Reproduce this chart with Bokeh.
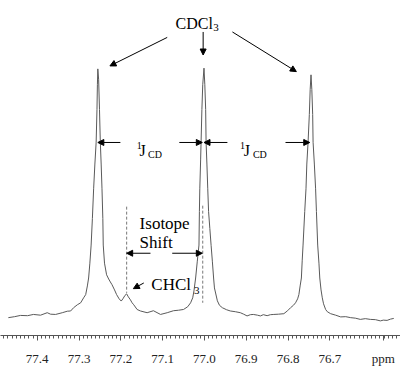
from bokeh.plotting import figure
from bokeh.models import (Range1d, FixedTicker, CustomJSTickFormatter, Label, Arrow,
                          NormalHead)
from bokeh.embed import file_html
from bokeh.resources import INLINE
import numpy as np

# ---- data (ppm, arbitrary intensity) ----
ppm = [77.469, 77.454, 77.440, 77.423, 77.409, 77.392, 77.376, 77.368, 77.356, 77.340,
       77.328, 77.320, 77.313, 77.304, 77.296, 77.289, 77.284, 77.280, 77.277, 77.274,
       77.271, 77.268, 77.265, 77.262, 77.259, 77.257, 77.256, 77.255, 77.253, 77.251,
       77.249, 77.247, 77.245, 77.243, 77.242, 77.239, 77.234, 77.229, 77.225, 77.221,
       77.215, 77.210, 77.204, 77.199, 77.195, 77.190, 77.186, 77.182, 77.177, 77.173,
       77.169, 77.161, 77.153, 77.137, 77.122, 77.105, 77.089, 77.074, 77.062, 77.050,
       77.040, 77.033, 77.028, 77.025, 77.021, 77.017, 77.013, 77.012, 77.011, 77.009,
       77.008, 77.006, 77.004, 77.001, 76.999, 76.997, 76.996, 76.994, 76.992, 76.990,
       76.987, 76.984, 76.981, 76.978, 76.976, 76.969, 76.964, 76.957, 76.947, 76.938,
       76.926, 76.914, 76.906, 76.898, 76.890, 76.883, 76.873, 76.866, 76.859, 76.850,
       76.842, 76.834, 76.823, 76.810, 76.801, 76.794, 76.787, 76.782, 76.777, 76.774,
       76.771, 76.768, 76.766, 76.764, 76.760, 76.757, 76.755, 76.752, 76.749, 76.747,
       76.745, 76.743, 76.741, 76.740, 76.737, 76.734, 76.732, 76.729, 76.726, 76.724,
       76.721, 76.718, 76.715, 76.710, 76.706, 76.698, 76.686, 76.674, 76.662, 76.650,
       76.639, 76.627, 76.615, 76.603, 76.591, 76.579, 76.572, 76.563, 76.555, 76.547]
intensity = [-0.8, -0.4, 0.1, 0.0, 0.5, 0.2, 1.2, 0.6, 0.5, 1.2,
             1.8, 1.9, 3.2, 4.4, 5.2, 7.2, 8.5, 12.0, 15.2, 21.2,
             28.5, 39.2, 51.2, 61.2, 70.0, 83.2, 93.2, 99.6, 95.2, 83.2,
             70.0, 61.2, 51.2, 39.2, 28.5, 21.2, 16.5, 14.8, 13.6, 12.5,
             10.4, 8.5, 6.8, 5.9, 6.8, 8.2, 8.8, 7.6, 6.4, 5.2,
             4.4, 2.5, 1.9, 1.2, 2.0, 0.5, 1.2, 2.0, 2.2, 2.5,
             3.6, 5.2, 7.2, 10.0, 15.2, 22.0, 28.5, 42.0, 51.2, 63.2,
             70.0, 83.2, 93.2, 99.9, 93.2, 83.2, 70.0, 61.2, 51.2, 42.0,
             35.2, 28.4, 22.0, 15.2, 11.2, 6.0, 4.2, 3.2, 2.4, 1.9,
             1.6, 1.2, 0.6, -0.1, 0.4, 0.5, 0.2, -0.1, 0.4, 0.0,
             0.4, 0.5, 0.6, 0.8, 2.0, 3.2, 4.2, 5.2, 6.8, 8.5,
             12.0, 15.2, 22.4, 28.5, 42.0, 51.2, 61.2, 70.0, 81.2, 91.2,
             97.2, 91.2, 81.2, 70.0, 61.2, 51.2, 42.0, 28.5, 21.2, 15.2,
             10.4, 7.2, 4.8, 2.5, 1.6, 0.8, 0.2, -0.5, -0.4, -0.8,
             -1.0, -1.5, -1.2, -1.5, -1.6, -2.1, -1.8, -1.9, -1.4, -1.1]

tick_values = [77.4, 77.3, 77.2, 77.1, 77.0, 76.9, 76.8, 76.7]
unit_position = 76.572                   # where the "ppm" unit label sits
axis_unit = "ppm"
peak_cdcl3 = [77.255, 77.001, 76.745]   # CDCl3 triplet lines
peak_chcl3 = 77.186                      # CHCl3 line

SERIF = "Liberation Serif"

p = figure(width=400, height=368, output_backend="svg", toolbar_location=None,
           x_range=Range1d(77.4878, 76.5309), y_range=Range1d(-8.0, 127.2),
           y_axis_type=None, min_border_left=0, min_border_right=0,
           min_border_top=0, min_border_bottom=30)
p.outline_line_color = None
p.grid.visible = False
p.background_fill_color = "white"
p.border_fill_color = "white"

p.line(ppm, intensity, line_color="#5a5a5a", line_width=1)

ax = p.xaxis[0]
ax.ticker = FixedTicker(ticks=tick_values + [unit_position],
                        minor_ticks=list(np.round(np.arange(77.48, 76.535, -0.01), 2)))
ax.formatter = CustomJSTickFormatter(
    args=dict(unit=axis_unit, upos=unit_position),
    code="return Math.abs(tick - upos) < 1e-6 ? unit : tick.toFixed(1);")
ax.major_tick_in = 0
ax.major_tick_out = 5
ax.minor_tick_in = 0
ax.minor_tick_out = 3
ax.axis_line_color = "#555555"
ax.major_tick_line_color = "#555555"
ax.minor_tick_line_color = "#555555"
ax.major_label_text_font = SERIF
ax.major_label_text_font_size = "13px"
ax.major_label_text_color = "#222222"
ax.major_label_standoff = 10


def arrow(x0, y0, x1, y1):
    p.add_layout(Arrow(x_start=x0, y_start=y0, x_end=x1, y_end=y1,
                       line_color="black", line_width=1,
                       end=NormalHead(size=6, fill_color="black", line_color="black")))


def label(x, y, t, size, align="left"):
    p.add_layout(Label(x=x, y=y, text=t, text_font=SERIF, text_font_size=size,
                       text_color="black", text_align=align,
                       text_baseline="alphabetic"))


# CDCl3 label with arrows to the three lines
label(77.069, 117.9, "CDCl", "16px")
label(76.979, 116.4, "3", "11px")
arrow(77.089, 112.3, 77.226, 100.8)
arrow(77.003, 114.5, 77.003, 105.2)
arrow(76.933, 114.5, 76.780, 98.5)

# 1J_CD coupling arrows
arrow(77.201, 69.9, peak_cdcl3[0], 69.9)
arrow(77.060, 69.9, 77.005, 69.9)
arrow(76.945, 69.9, peak_cdcl3[1], 69.9)
arrow(76.806, 69.9, 76.748, 69.9)
for x1, xj, xcd in [(77.162, 77.155, 77.135), (76.915, 76.906, 76.884)]:
    label(x1, 68.7, "1", "10px")
    label(xj, 66.6, "J", "16px")
    label(xcd, 65.1, "CD", "10px")

# isotope shift
p.segment(x0=[peak_chcl3, 77.004], y0=[44.0, 44.4], x1=[peak_chcl3, 77.004], y1=[9.2, 5.2],
          line_color="#777777", line_width=1, line_dash="3 2")
label(77.155, 37.2, "Isotope", "17px")
label(77.155, 29.6, "Shift", "17px")
arrow(77.129, 25.2, peak_chcl3, 25.2)
arrow(77.077, 25.2, 77.005, 25.2)

# CHCl3
label(77.127, 12.4, "CHCl", "17px")
label(77.025, 10.2, "3", "11px")
arrow(77.145, 13.2, 77.170, 10.9)

open("out.html", "w").write(file_html(p, INLINE))
